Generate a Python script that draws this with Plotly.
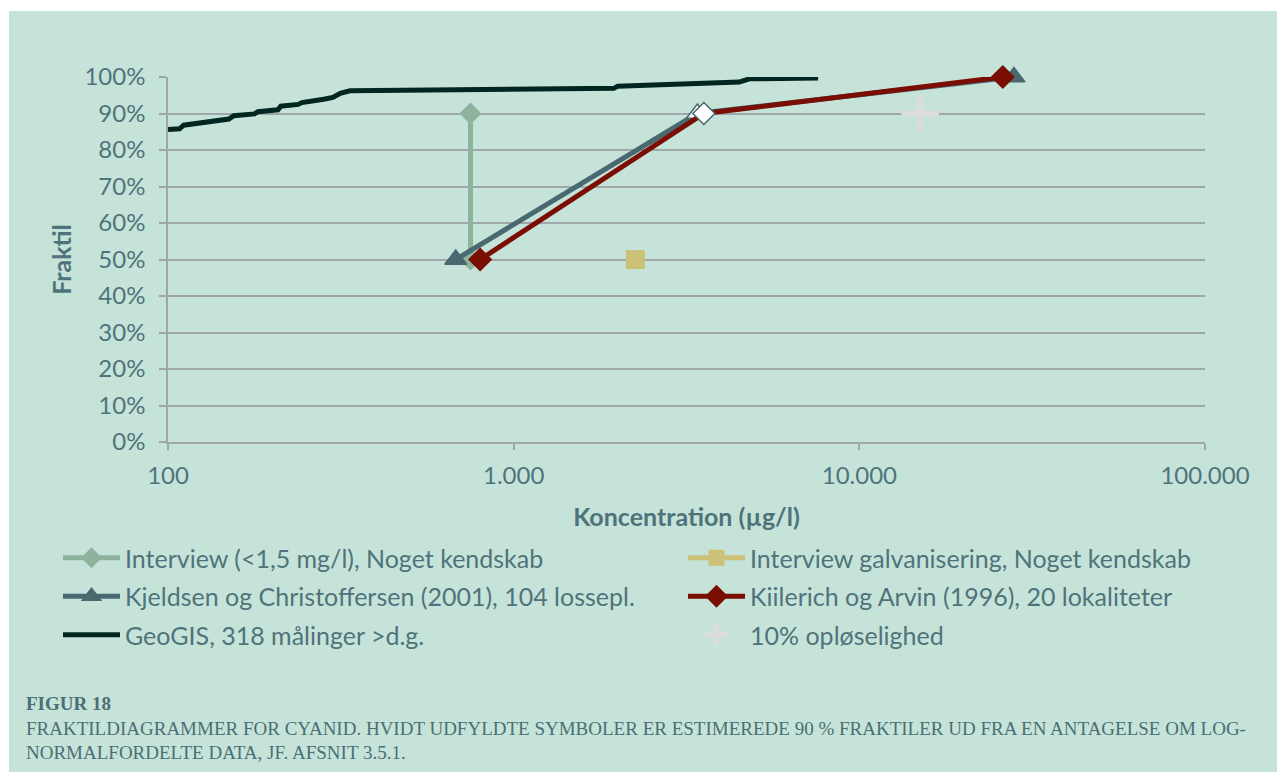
import plotly.graph_objects as go

# ---------------- data ----------------
x_tick_vals = [100, 1000, 10000, 100000]
x_tick_labels = ["100", "1.000", "10.000", "100.000"]
y_tick_vals = [0.0, 0.1, 0.2, 0.3, 0.4, 0.5, 0.6, 0.7, 0.8, 0.9, 1.0]
y_tick_labels = ["0%", "10%", "20%", "30%", "40%", "50%", "60%", "70%", "80%", "90%", "100%"]

interview_x = [750, 750]
interview_y = [0.5, 0.9]

galv_x = [2250]
galv_y = [0.5]

kjeldsen_x = [680, 3400, 28000]
kjeldsen_y = [0.5, 0.9, 1.0]

kiilerich_x = [800, 3550, 26000]
kiilerich_y = [0.5, 0.9, 1.0]

geogis_x = [100, 108, 111, 120, 123, 138, 141, 150, 155, 178, 182, 208, 212,
            238, 244, 278, 282, 300, 315, 336, 1000, 1950, 2000, 3000, 4500,
            4800, 7600]
geogis_y = [0.856, 0.858, 0.868, 0.872, 0.876, 0.879, 0.882, 0.885, 0.894,
            0.899, 0.905, 0.910, 0.920, 0.925, 0.930, 0.935, 0.939, 0.944,
            0.955, 0.962, 0.966, 0.969, 0.975, 0.980, 0.986, 0.995, 0.997]

sol_x = [15000]
sol_y = [0.9]

names = [
    "Interview (<1,5 mg/l), Noget kendskab",
    "Interview galvanisering, Noget kendskab",
    "Kjeldsen og Christoffersen (2001), 104 lossepl.",
    "Kiilerich og Arvin (1996), 20 lokaliteter",
    "GeoGIS, 318 målinger >d.g.",
    "10% opløselighed",
]

caption_title = "FIGUR 18"
caption_lines = [
    "FRAKTILDIAGRAMMER FOR CYANID. HVIDT UDFYLDTE SYMBOLER ER ESTIMEREDE 90 % FRAKTILER UD FRA EN ANTAGELSE OM LOG-",
    "NORMALFORDELTE DATA, JF. AFSNIT 3.5.1.",
]

# ---------------- style ----------------
BG = "#C6E3D9"
GRID = "#9FA7AA"
TXT = "#4F737A"
C_INT = "#8DB39D"
C_GALV = "#CCC277"
C_KJ = "#48696F"
C_KI = "#7A0E02"
C_GEO = "#00261F"
C_SOL = "#DCDCDC"
FONT = "Lato"

OFF = 8  # page body margin of the html page
W, H = 1285 - OFF, 772 - OFF
ML, MT = 168 - OFF, 77 - OFF
PW, PH = 1037, 365
MR = W - ML - PW
MB = H - MT - PH


def px_x(p):
    """reference page pixel x -> paper coordinate"""
    return (p - OFF - ML) / PW


def px_y(p):
    """reference page pixel y -> paper coordinate"""
    return (MT + PH - (p - OFF)) / PH


fig = go.Figure()

fig.add_trace(go.Scatter(
    x=interview_x, y=interview_y, name=names[0], mode="lines+markers",
    line=dict(color=C_INT, width=5),
    marker=dict(symbol="diamond", size=17, color=C_INT),
    cliponaxis=False, legend="legend", legendgroup="g0",
))
fig.add_trace(go.Scatter(
    x=galv_x, y=galv_y, name=names[1], mode="lines+markers",
    line=dict(color=C_GALV, width=5),
    marker=dict(symbol="square", size=19, color=C_GALV),
    cliponaxis=False, legend="legend2", legendgroup="g1",
))
fig.add_trace(go.Scatter(
    x=kjeldsen_x, y=kjeldsen_y, name=names[2], mode="lines+markers",
    line=dict(color=C_KJ, width=5),
    marker=dict(symbol="triangle-up", size=19,
                color=[C_KJ, "white", C_KJ],
                line=dict(color=C_KJ, width=1.5)),
    cliponaxis=False, legend="legend", legendgroup="g2",
))
fig.add_trace(go.Scatter(
    x=kiilerich_x, y=kiilerich_y, name=names[3], mode="lines+markers",
    line=dict(color=C_KI, width=5),
    marker=dict(symbol="diamond", size=17,
                color=[C_KI, "white", C_KI],
                line=dict(color=[C_KI, C_KJ, C_KI], width=1.5)),
    cliponaxis=False, legend="legend2", legendgroup="g3",
))
fig.add_trace(go.Scatter(
    x=geogis_x, y=geogis_y, name=names[4], mode="lines",
    line=dict(color=C_GEO, width=5),
    cliponaxis=False, legend="legend", legendgroup="g4",
))
fig.add_trace(go.Scatter(
    x=sol_x, y=sol_y, name=names[5], mode="markers",
    marker=dict(symbol="cross-thin", size=27, color=C_SOL,
                line=dict(color=C_SOL, width=6)),
    cliponaxis=False, legend="legend2", legendgroup="g5",
))

legend_common = dict(
    orientation="v",
    yanchor="top",
    xanchor="left",
    itemwidth=57,
    font=dict(family=FONT, size=25, color=TXT),
    bgcolor="rgba(0,0,0,0)",
    traceorder="grouped",
    tracegroupgap=3,
)

fig.update_layout(
    width=W, height=H,
    margin=dict(l=ML, r=MR, t=MT, b=MB, autoexpand=False),
    paper_bgcolor=BG,
    plot_bgcolor="rgba(0,0,0,0)",
    font=dict(family=FONT, size=24, color=TXT),
    showlegend=True,
    legend=dict(x=px_x(58), y=px_y(535), **legend_common),
    legend2=dict(x=px_x(683), y=px_y(535), **legend_common),
    xaxis=dict(
        type="log", range=[2, 5],
        tickvals=x_tick_vals, ticktext=x_tick_labels,
        showgrid=False, zeroline=False,
        showline=True, linecolor=GRID, linewidth=1.5,
        ticks="outside", ticklen=6, tickcolor=GRID, tickwidth=1.5,
        ticklabelstandoff=5,
        tickfont=dict(family=FONT, size=24, color=TXT),
        title=dict(text="<b>Koncentration (µg/l)</b>", standoff=21,
                   font=dict(family=FONT, size=25, color=TXT)),
        automargin=False,
    ),
    yaxis=dict(
        range=[0, 1],
        tickvals=y_tick_vals, ticktext=y_tick_labels,
        showgrid=True, gridcolor=GRID, gridwidth=1.5,
        zeroline=False,
        showline=True, linecolor=GRID, linewidth=1.5,
        ticks="outside", ticklen=7, tickcolor=GRID, tickwidth=1.5,
        ticklabelstandoff=9,
        tickfont=dict(family=FONT, size=24, color=TXT),
        title=dict(text="<b>Fraktil</b>", standoff=6,
                   font=dict(family=FONT, size=25, color=TXT)),
        automargin=False,
    ),
)

# white outer margins (top and left) of the reference picture
fig.add_shape(type="rect", xref="paper", yref="paper",
              x0=px_x(OFF), x1=px_x(9), y0=px_y(772), y1=px_y(OFF),
              fillcolor="white", line=dict(width=0), layer="above")
fig.add_shape(type="rect", xref="paper", yref="paper",
              x0=px_x(OFF), x1=px_x(1285), y0=px_y(11), y1=px_y(OFF),
              fillcolor="white", line=dict(width=0), layer="above")

caption = "<b>" + caption_title + "</b><br>" + "<br>".join(caption_lines)
fig.add_annotation(
    xref="paper", yref="paper", x=px_x(24), y=px_y(691),
    xanchor="left", yanchor="top", align="left", showarrow=False,
    text=caption,
    font=dict(family="Liberation Serif", size=19, color="#4A6F75"),
)

fig.write_html("out.html")
